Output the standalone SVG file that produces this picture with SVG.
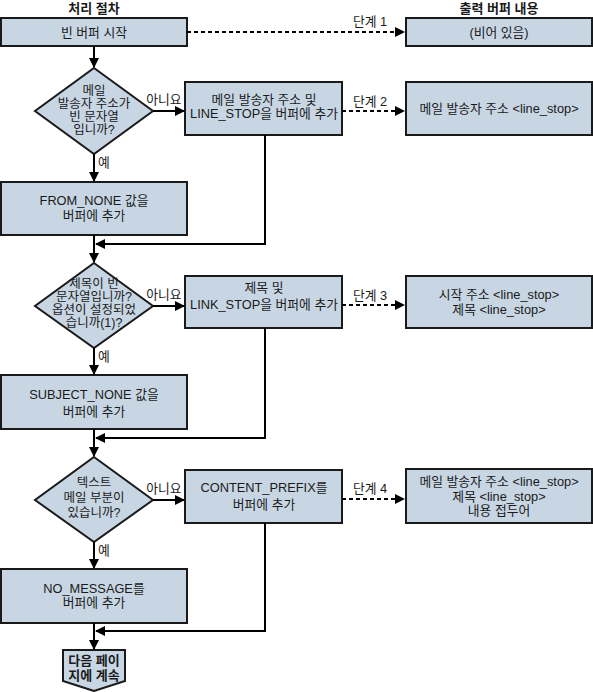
<svg xmlns="http://www.w3.org/2000/svg" width="593" height="692" viewBox="0 0 593 692">
<defs>
<marker id="ah" markerWidth="10" markerHeight="10" refX="9" refY="5" orient="auto" markerUnits="userSpaceOnUse"><path d="M0,0 L10,5 L0,10 z" fill="#000"/></marker>
<style>
.box{fill:#c8d6e4;stroke:#1a1a1a;stroke-width:2}
text{font-family:"Liberation Sans","Noto Sans CJK KR",sans-serif;font-size:12.8px;fill:#1a1a1a;text-anchor:middle}
.h{font-weight:bold;font-size:13px}
.dt{font-size:12.5px}
.ln{stroke:#000;stroke-width:2;fill:none}
.ds{stroke:#000;stroke-width:1.8;fill:none;stroke-dasharray:4,3}
</style>
</defs>
<text class="h" x="94" y="13">처리 절차</text>
<text class="h" x="499" y="13">출력 버퍼 내용</text>
<g id="start"><rect class="box" x="1" y="18" width="186" height="28"/><text x="94" y="37">빈 버퍼 시작</text></g>
<g id="out1"><rect class="box" x="406" y="18" width="186" height="28"/><text x="499" y="37">(비어 있음)</text></g>
<g id="d1"><polygon class="box" points="94,68 153,111 94,154 35,111"/><text class="dt" x="94" y="95">메일</text><text class="dt" x="94" y="108">발송자 주소가</text><text class="dt" x="94" y="121">빈 문자열</text><text class="dt" x="94" y="134">입니까?</text></g>
<g id="b2"><rect class="box" x="185" y="82" width="157" height="53"/><text x="264" y="104">메일 발송자 주소 및</text><text x="264" y="118">LINE_STOP을 버퍼에 추가</text></g>
<g id="out2"><rect class="box" x="406" y="82" width="186" height="53"/><text x="499" y="113">메일 발송자 주소 &lt;line_stop&gt;</text></g>
<g id="b3"><rect class="box" x="1" y="182" width="186" height="53"/><text x="94" y="205">FROM_NONE 값을</text><text x="94" y="220">버퍼에 추가</text></g>
<g id="d2"><polygon class="box" points="94,263 153,306 94,348 35,306"/><text class="dt" x="94" y="288">제목이 빈</text><text class="dt" x="94" y="301">문자열입니까?</text><text class="dt" x="94" y="314">옵션이 설정되었</text><text class="dt" x="94" y="327">습니까(1)?</text></g>
<g id="b4"><rect class="box" x="185" y="276" width="157" height="52"/><text x="264" y="292">제목 및</text><text x="264" y="309">LINK_STOP을 버퍼에 추가</text></g>
<g id="out3"><rect class="box" x="406" y="276" width="186" height="52"/><text x="499" y="299">시작 주소 &lt;line_stop&gt;</text><text x="499" y="314">제목 &lt;line_stop&gt;</text></g>
<g id="b5"><rect class="box" x="1" y="375" width="186" height="54"/><text x="94" y="399">SUBJECT_NONE 값을</text><text x="94" y="416">버퍼에 추가</text></g>
<g id="d3"><polygon class="box" points="94,457 153,500 94,542 35,500"/><text class="dt" x="94" y="487">텍스트</text><text class="dt" x="94" y="502">메일 부분이</text><text class="dt" x="94" y="517">있습니까?</text></g>
<g id="b6"><rect class="box" x="185" y="470" width="157" height="53"/><text x="264" y="492">CONTENT_PREFIX를</text><text x="264" y="509">버퍼에 추가</text></g>
<g id="out4"><rect class="box" x="406" y="469" width="186" height="54"/><text x="499" y="486">메일 발송자 주소 &lt;line_stop&gt;</text><text x="499" y="501">제목 &lt;line_stop&gt;</text><text x="499" y="515">내용 접두어</text></g>
<g id="b7"><rect class="box" x="1" y="569" width="186" height="54"/><text x="94" y="593">NO_MESSAGE를</text><text x="94" y="607">버퍼에 추가</text></g>
<g id="cont"><polygon class="box" points="63,650 125,650 125,681 94,691 63,681"/><text x="94" y="665" style="font-size:13px;font-weight:bold">다음 페이</text><text x="94" y="680" style="font-size:13px;font-weight:bold">지에 계속</text></g>
<g id="connectors">
<line class="ds" x1="187" y1="32" x2="404" y2="32" marker-end="url(#ah)"/>
<line class="ds" x1="342" y1="111" x2="404" y2="111" marker-end="url(#ah)"/>
<line class="ds" x1="342" y1="305" x2="404" y2="305" marker-end="url(#ah)"/>
<line class="ds" x1="342" y1="499" x2="404" y2="499" marker-end="url(#ah)"/>
<line class="ln" x1="94" y1="47" x2="94" y2="67" marker-end="url(#ah)"/>
<line class="ln" x1="153" y1="111" x2="184" y2="111" marker-end="url(#ah)"/>
<line class="ln" x1="94" y1="154" x2="94" y2="181" marker-end="url(#ah)"/>
<polyline class="ln" points="265,135 265,244 96,244" marker-end="url(#ah)"/>
<line class="ln" x1="94" y1="235" x2="94" y2="262" marker-end="url(#ah)"/>
<line class="ln" x1="153" y1="306" x2="184" y2="306" marker-end="url(#ah)"/>
<line class="ln" x1="94" y1="348" x2="94" y2="374" marker-end="url(#ah)"/>
<polyline class="ln" points="265,328 265,438 96,438" marker-end="url(#ah)"/>
<line class="ln" x1="94" y1="429" x2="94" y2="456" marker-end="url(#ah)"/>
<line class="ln" x1="153" y1="500" x2="184" y2="500" marker-end="url(#ah)"/>
<line class="ln" x1="94" y1="542" x2="94" y2="568" marker-end="url(#ah)"/>
<polyline class="ln" points="265,523 265,631 96,631" marker-end="url(#ah)"/>
<line class="ln" x1="94" y1="623" x2="94" y2="649" marker-end="url(#ah)"/>
</g>
<g id="labels">
<text x="370" y="26">단계 1</text>
<text x="370" y="106">단계 2</text>
<text x="370" y="300">단계 3</text>
<text x="370" y="493">단계 4</text>
<text x="164" y="104">아니요</text>
<text x="164" y="299">아니요</text>
<text x="164" y="493">아니요</text>
<text x="104" y="167">예</text>
<text x="104" y="361">예</text>
<text x="104" y="555">예</text>
</g>
</svg>
